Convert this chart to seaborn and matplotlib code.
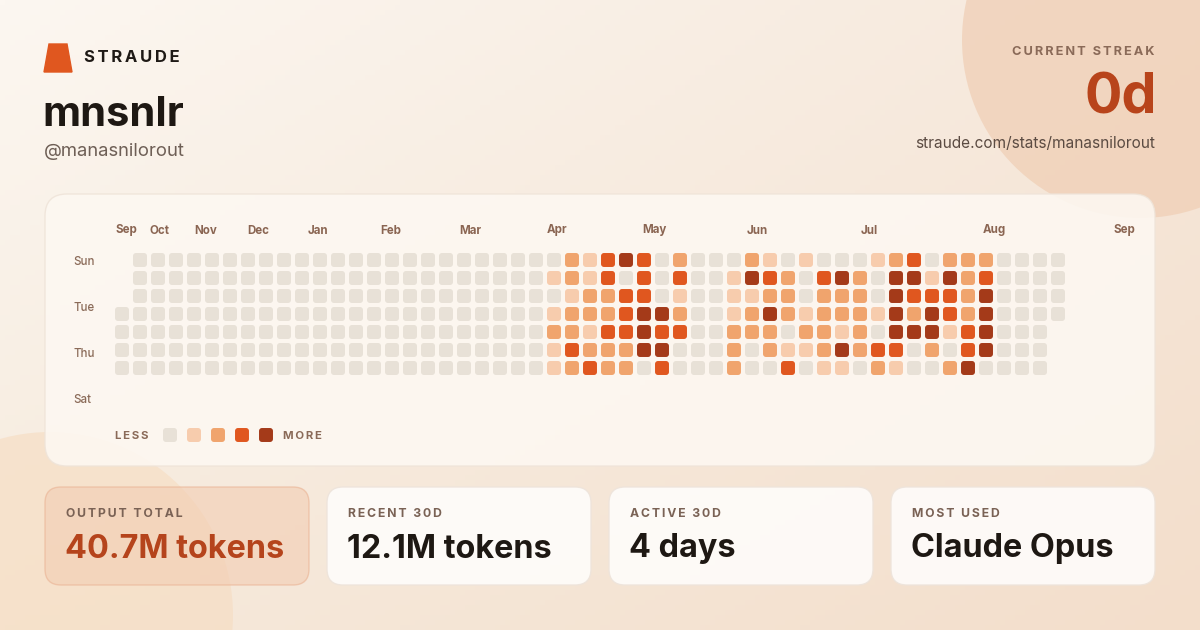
import numpy as np
import pandas as pd
import matplotlib.pyplot as plt
from matplotlib.patches import FancyBboxPatch, Circle
from matplotlib.path import Path
import seaborn as sns

sns.set_theme(style="white")
plt.rcParams['font.family'] = ['Inter', 'DejaVu Sans']

# activity level per week column, Sun..Sat rows (0 none .. 4 most, blank = outside range)
sun = " 00000000000000000000000" "0213430200021010001230222" "0000"
mon = " 00000000000000000000000" "1213030300143203420441423" "0000"
tue = " 00000000000000000000000" "0122330100112202220433324" "0000"
wed = "000000000000000000000000" "1222344200124212221424324" "0000"
thu = "000000000000000000000000" "2213343300222022120444134" "000 "
fri = "000000000000000000000000" "1322244000202112423302034" "000 "
sat = "000000000000000000000000" "1232203000200301102100240" "000 "
day_rows = [sun, mon, tue, wed, thu, fri, sat]

months = ["Sep", "Oct", "Nov", "Dec", "Jan", "Feb", "Mar", "Apr", "May", "Jun", "Jul", "Aug", "Sep"]
day_labels = ["Sun", "Tue", "Thu", "Sat"]

level_colors = {0: "#e8e1d7", 1: "#f7ccad", 2: "#f0a46d", 3: "#e0571f", 4: "#a43a19"}

username = "mnsnlr"
handle = "@manasnilorout"
streak = "0d"
profile_url = "straude.com/stats/manasnilorout"
card_titles = ["OUTPUT TOTAL", "RECENT 30D", "ACTIVE 30D", "MOST USED"]
card_values = ["40.7M tokens", "12.1M tokens", "4 days", "Claude Opus"]

records = []
for d, row in enumerate(day_rows):
    for w, ch in enumerate(row):
        if ch != " ":
            records.append({"week": w, "day": d, "level": int(ch)})
df = pd.DataFrame(records)


def spaced(s, gap="\u2009"):
    return gap.join(s)


def rounded_square(r=0.42, n=8):
    pts = []
    for cx, cy, a0 in [(1 - r, 1 - r, 0), (-1 + r, 1 - r, 90), (-1 + r, -1 + r, 180), (1 - r, -1 + r, 270)]:
        for t in np.linspace(a0, a0 + 90, n):
            pts.append((cx + r * np.cos(np.radians(t)), cy + r * np.sin(np.radians(t))))
    pts.append(pts[0])
    return Path(pts, closed=True)


cell = rounded_square()

fig = plt.figure(figsize=(12, 6.3), dpi=100)
ax = fig.add_axes([0, 0, 1, 1])
ax.set_xlim(0, 1200)
ax.set_ylim(630, 0)
ax.axis("off")

# background gradient
c_tl = np.array([252, 247, 241]) / 255
c_tr = np.array([246, 232, 219]) / 255
c_bl = np.array([246, 234, 220]) / 255
c_br = np.array([243, 222, 203]) / 255
u = np.linspace(0, 1, 240)[None, :, None]
v = np.linspace(0, 1, 126)[:, None, None]
grad = (1 - u) * (1 - v) * c_tl + u * (1 - v) * c_tr + (1 - u) * v * c_bl + u * v * c_br
ax.imshow(grad, extent=(0, 1200, 630, 0), aspect="auto", zorder=0)

ax.add_patch(Circle((1140, 40), 178, fc="#f0cfb6", ec="none", alpha=0.75, zorder=1))
ax.add_patch(Circle((50, 615), 183, fc="#f6dcc0", ec="none", alpha=0.6, zorder=1))

# header
ax.fill([44, 72, 67, 49], [72, 72, 44, 44], color="#e0571f", zorder=3)
ax.text(84, 58, spaced("STRAUDE"), fontsize=12, fontweight="bold", color="#1e1915",
        va="center", ha="left", zorder=3)
ax.text(42, 115, username, fontsize=30, fontweight="bold", color="#1e1813",
        va="center", ha="left", zorder=3)
ax.text(44, 152, handle, fontsize=13.3, color="#6e5f56", va="center", ha="left", zorder=3)

ax.text(1155, 52, spaced("CURRENT STREAK"), fontsize=9.2, fontweight="bold", color="#8a6a58",
        va="center", ha="right", zorder=3)
ax.text(1157, 98, streak, fontsize=40, fontweight="bold", color="#b8441b",
        va="center", ha="right", zorder=3)
ax.text(1155, 143, profile_url, fontsize=11.1, color="#5b4b42", va="center", ha="right", zorder=3)

# heatmap panel
ax.add_patch(FancyBboxPatch((45, 194), 1110, 272, boxstyle="round,pad=0,rounding_size=22",
                            fc="#fdf8f2", ec="#efe4d9", lw=1, alpha=0.88, zorder=2))
month_x = [115, 150, 194, 247, 308, 380, 459, 547, 642, 747, 861, 983, 1114]
for name, x in zip(months, month_x):
    ax.text(x, 233.5, name, fontsize=8.3, fontweight="bold", color="#8a6552",
            va="baseline", ha="left", zorder=3)
for name, y in zip(day_labels, [265, 311, 357, 403]):
    ax.text(73, y, name, fontsize=8.3, fontweight="medium", color="#8a6a58",
            va="baseline", ha="left", zorder=3)

ax.text(115, 436, spaced("LESS"), fontsize=8.2, fontweight="bold", color="#8a6a58",
        va="center", ha="left", zorder=3)
ax.scatter([170, 194, 218, 242, 266], [435] * 5, s=101, marker=cell, linewidths=0,
           c=[level_colors[k] for k in range(5)], zorder=3)
ax.text(283, 436, spaced("MORE"), fontsize=8.2, fontweight="bold", color="#8a6a58",
        va="center", ha="left", zorder=3)

# stat cards
for i, (title, value) in enumerate(zip(card_titles, card_values)):
    x0 = 45 + i * 282
    if i == 0:
        fc, ec, alpha, vc = "#f2cdb3", "#eab394", 0.6, "#b5441c"
    else:
        fc, ec, alpha, vc = "#fefcfa", "#eee4db", 0.92, "#1e1813"
    ax.add_patch(FancyBboxPatch((x0, 487), 264, 98, boxstyle="round,pad=0,rounding_size=16",
                                fc=fc, ec=ec, lw=1, alpha=alpha, zorder=2))
    ax.text(x0 + 21, 514, spaced(title), fontsize=8.8, fontweight="bold", color="#7a6255",
            va="center", ha="left", zorder=3)
    ax.text(x0 + 20, 549, value, fontsize=23.3, fontweight="bold", color=vc,
            va="center", ha="left", zorder=3)

# contribution grid
ax_hm = fig.add_axes([113 / 1200, 1 - 377 / 630, 954 / 1200, 126 / 630])
ax_hm.patch.set_alpha(0)
sns.scatterplot(data=df, x="week", y="day", hue="level", palette=level_colors, marker=cell,
                s=101, linewidth=0, legend=False, ax=ax_hm)
ax_hm.set_xlim(-0.5, 52.5)
ax_hm.set_ylim(6.5, -0.5)
ax_hm.axis("off")

fig.savefig("out.png", dpi=100)
